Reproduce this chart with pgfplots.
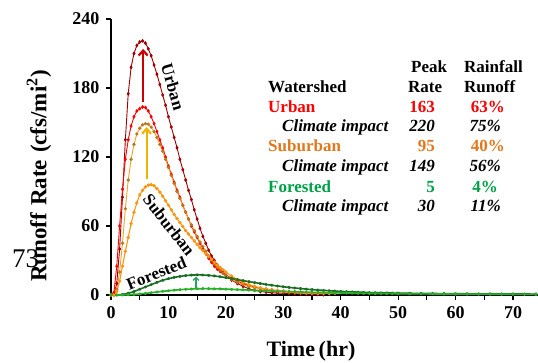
\documentclass[border=0pt]{standalone}
\usepackage{fontspec}
\setmainfont{Liberation Serif}
\usepackage{pgfplots}
\pgfplotsset{compat=1.18}
\usetikzlibrary{arrows.meta}
\definecolor{udark}{RGB}{160,0,0}
\definecolor{ured}{RGB}{255,0,0}
\definecolor{sorange}{RGB}{245,160,40}
\definecolor{sbrown}{RGB}{185,120,30}
\definecolor{sor2}{RGB}{250,150,20}
\definecolor{fdark}{RGB}{25,110,35}
\definecolor{fgreen}{RGB}{40,175,40}
\definecolor{txtorange}{RGB}{225,120,30}
\definecolor{txtgreen}{RGB}{0,160,70}
\definecolor{arrred}{RGB}{205,0,0}
\definecolor{arrgold}{RGB}{240,180,0}
\definecolor{arrgreen}{RGB}{40,160,100}
\begin{document}
\begin{tikzpicture}[x=1pt,y=1pt]
\path[use as bounding box] (0,0) rectangle (538,362);
\node[font=\fontsize{27}{30}\selectfont, anchor=base west, inner sep=0pt] at (12,95) {73};
\begin{axis}[
  at={(111pt,67pt)}, anchor=south west,
  scale only axis, width=427pt, height=276pt,
  xmin=0, xmax=74.35, ymin=0, ymax=240,
  axis lines*=left,
  axis line style={line width=1.6pt, -},
  xtick={0,10,...,70}, minor xtick={5,15,...,75},
  ytick={0,60,...,240},
  tick align=outside, tick style={black, line width=1.2pt},
  major tick length=5pt, minor tick length=5pt,
  tick label style={font=\fontsize{18}{20}\selectfont\bfseries},
  /pgf/number format/assume math mode=true,
  xticklabel style={yshift=-3pt},
  yticklabel style={xshift=-3pt},
  clip=false,
]
% Urban climate
\addplot[udark, line width=0.9pt, mark=diamond*, mark size=1.3pt, mark options={udark}] coordinates {
(0,0)(0.5,0)(1,10)(1.5,40)(2,85)(2.5,135)(3,175)(3.5,198)(4,210)(4.5,217)(5,220)(5.5,221)(6,219)(6.5,214)(7,208)(7.5,200)(8,192)(8.5,183)(9,174)(9.5,165)(10,155)(10.5,146)(11,137)(11.5,128)(12,118)(12.5,109)(13,100)(13.5,91)(14,83)(14.5,74)(15,66)(15.5,58)(16,51)(16.5,45)(17,39)(17.5,34)(18,30)(18.5,26)(19,22)(19.5,19.5)(20,17)(21,13)(22,10)(23,7.5)(24,5.5)(25,4)(26,3)(27,2.5)(28,2)(29,1.7)(30,1.5)(31,1.3)(32,1.1)(33,1)(34,0.8)(35,0.6)(36,0.5)(37,0.4)
};
% Urban
\addplot[ured, line width=0.9pt, mark=diamond*, mark size=1.3pt, mark options={ured}] coordinates {
(0,0)(0.5,2)(1,25)(1.5,60)(2,92)(2.5,118)(3,135)(3.5,147)(4,155)(4.5,160)(5,162)(5.5,163.5)(6,163)(6.5,160)(7,155)(7.5,149)(8,142)(8.5,135)(9,128)(9.5,120)(10,112)(10.5,105)(11,98)(11.5,91)(12,85)(12.5,78)(13,72)(13.5,66)(14,60)(14.5,55)(15,50)(15.5,45)(16,40)(16.5,36)(17,32)(17.5,28.5)(18,25)(18.5,22.5)(19,20.5)(19.5,19)(20,17.5)(21,14.5)(22,12)(23,10)(24,8.3)(25,7)(26,6)(27,5.1)(28,4.4)(29,3.8)(30,3.3)(31,2.9)(32,2.6)(33,2.3)(34,2.1)(35,1.9)(36,1.7)(37,1.6)
};
% Suburban climate
\addplot[sorange, line width=0.9pt, mark=*, mark size=1.2pt, mark options={sbrown}] coordinates {
(0,0)(0.5,0)(1,5)(1.5,20)(2,45)(2.5,75)(3,100)(3.5,118)(4,131)(4.5,140)(5,145)(5.5,148)(6,149)(6.5,148.5)(7,146)(7.5,142)(8,137)(8.5,131)(9,125)(9.5,118)(10,111)(10.5,104)(11,97)(11.5,90)(12,84)(12.5,78)(13,72)(13.5,66)(14,61)(14.5,56)(15,51)(15.5,46)(16,42)(16.5,38)(17,34)(17.5,30.5)(18,27)(18.5,24)(19,21.5)(19.5,19)(20,17)(21,13.5)(22,11)(23,9)(24,7.5)(25,6.3)(26,5.3)(27,4.5)(28,3.8)(29,3.3)(30,2.8)(31,2.5)(32,2.2)(33,2)(34,1.8)(35,1.6)(36,1.5)(37,1.4)(38,1.3)(39,1.2)
};
% Suburban
\addplot[sor2, line width=1.1pt, mark=*, mark size=1.1pt, mark options={sor2}] coordinates {
(0,0)(0.5,0)(1,3)(1.5,12)(2,25)(2.5,38)(3,50)(3.5,62)(4,72)(4.5,80)(5,87)(5.5,91)(6,94)(6.5,95.5)(7,96)(7.5,95)(8,92.5)(8.5,89.5)(9,86)(9.5,82)(10,78)(10.5,74)(11,70)(11.5,66.5)(12,63)(12.5,59.5)(13,56)(13.5,53)(14,50)(14.5,47)(15,44)(15.5,41)(16,38.5)(16.5,36)(17,33.5)(17.5,31)(18,28.5)(18.5,26)(19,24)(19.5,22)(20,20)(21,16.5)(22,13.5)(23,11)(24,9)(25,7.5)(26,6.2)(27,5.2)(28,4.4)(29,3.7)(30,3.2)(31,2.8)(32,2.5)(33,2.2)(34,2)(35,1.8)(36,1.6)(37,1.5)(38,1.4)
};
% Forested climate
\addplot[fdark, line width=1.6pt, mark=x, mark size=1.3pt, mark options={fdark}] coordinates {
(0,0)(1,0)(2,0.5)(3,1.5)(4,3)(5,5)(6,7)(7,9)(8,11)(9,12.8)(10,14.2)(11,15.3)(12,16.2)(13,16.9)(14,17.3)(15,17.5)(16,17.4)(17,17.1)(18,16.6)(19,15.9)(20,15.1)(21,14.3)(22,13.4)(23,12.5)(24,11.6)(25,10.8)(26,10)(27,9.2)(28,8.5)(29,7.8)(30,7.2)(31,6.6)(32,6.1)(33,5.6)(34,5.1)(35,4.7)(36,4.3)(37,4)(38,3.7)(39,3.4)(40,3.1)(41,2.9)(42,2.7)(43,2.5)(44,2.3)(45,2.1)(46,2)(47,1.9)(48,1.8)(49,1.7)(50,1.6)(52,1.5)(54,1.4)(56,1.3)(58,1.2)(60,1.1)(62,1.05)(64,1)(66,1)(68,0.95)(70,0.9)(72,0.85)(74,0.8)
};
% Forested
\addplot[fgreen, line width=1.6pt, mark=x, mark size=1.3pt, mark options={fgreen}] coordinates {
(0,0)(1,0)(2,0)(3,0.2)(4,0.5)(5,0.9)(6,1.4)(7,2)(8,2.6)(9,3.2)(10,3.7)(11,4.2)(12,4.6)(13,5)(14,5.2)(15,5.4)(16,5.5)(17,5.5)(18,5.4)(19,5.3)(20,5.1)(21,4.9)(22,4.7)(23,4.5)(24,4.3)(25,4.1)(26,3.9)(27,3.7)(28,3.5)(29,3.3)(30,3.1)(31,2.95)(32,2.8)(33,2.65)(34,2.5)(35,2.35)(36,2.2)(37,2.1)(38,2)(39,1.9)(40,1.8)(41,1.7)(42,1.6)(43,1.5)(44,1.4)(45,1.35)(46,1.3)(47,1.25)(48,1.2)(49,1.15)(50,1.1)(52,1.0)(54,0.95)(56,0.9)(58,0.85)(60,0.8)(62,0.75)(64,0.7)(66,0.7)(68,0.65)(70,0.6)(72,0.55)(74,0.5)
};
% arrows
\draw[arrred, line width=2.2pt, -{Straight Barb[length=5pt,width=9pt]}] (axis cs:5.6,168) -- (axis cs:5.6,214);
\draw[arrgold, line width=2.2pt, -{Straight Barb[length=5pt,width=9pt]}] (axis cs:6.2,101) -- (axis cs:6.2,146);
\draw[arrgreen, line width=1.2pt, -{Straight Barb[length=3pt,width=6pt]}] (axis cs:14.8,6) -- (axis cs:14.8,16);
% curve labels
\node[font=\fontsize{17}{19}\selectfont\bfseries, rotate=-74] at (axis cs:10.8,181) {Urban};
\node[font=\fontsize{17}{19}\selectfont\bfseries, rotate=-52] at (axis cs:10.1,61) {Suburban};
\node[font=\fontsize{17}{19}\selectfont\bfseries, rotate=22] at (axis cs:7.9,19) {Forested};
\end{axis}
% axis titles
\node[font=\fontsize{22}{24}\selectfont\bfseries] at (311,11) {Time\,(hr)};
\node[font=\fontsize{23}{25}\selectfont\bfseries, rotate=90] at (39,186) {Runoff\hspace{0.3em}Rate\hspace{0.3em}(cfs/mi\textsuperscript{2})};
% table
\begin{scope}[every node/.style={font=\fontsize{17}{20}\selectfont\bfseries, inner sep=0pt, anchor=base west}]
\node at (411,289) {Peak};
\node at (464,289) {Rainfall};
\node at (268,269) {Watershed};
\node at (408,269) {Rate};
\node at (464,269) {Runoff};
\node[text=ured] at (268,249) {Urban};
\node[text=txtorange] at (268,210) {Suburban};
\node[text=txtgreen] at (268,170) {Forested};
\node at (282,230) {\itshape Climate impact};
\node at (282,190) {\itshape Climate impact};
\node at (282,151) {\itshape Climate impact};
\end{scope}
\begin{scope}[every node/.style={font=\fontsize{17}{20}\selectfont\bfseries, inner sep=0pt, anchor=base east}]
\node[text=ured] at (435,249) {163};
\node at (435,230) {\itshape 220};
\node[text=txtorange] at (435,210) {95};
\node at (435,190) {\itshape 149};
\node[text=txtgreen] at (435,170) {5};
\node at (435,151) {\itshape 30};
\node[text=ured] at (505,249) {63\%};
\node at (501,230) {\itshape 75\%};
\node[text=txtorange] at (505,210) {40\%};
\node at (501,190) {\itshape 56\%};
\node[text=txtgreen] at (498,170) {4\%};
\node at (501,151) {\itshape 11\%};
\end{scope}
\end{tikzpicture}
\end{document}
